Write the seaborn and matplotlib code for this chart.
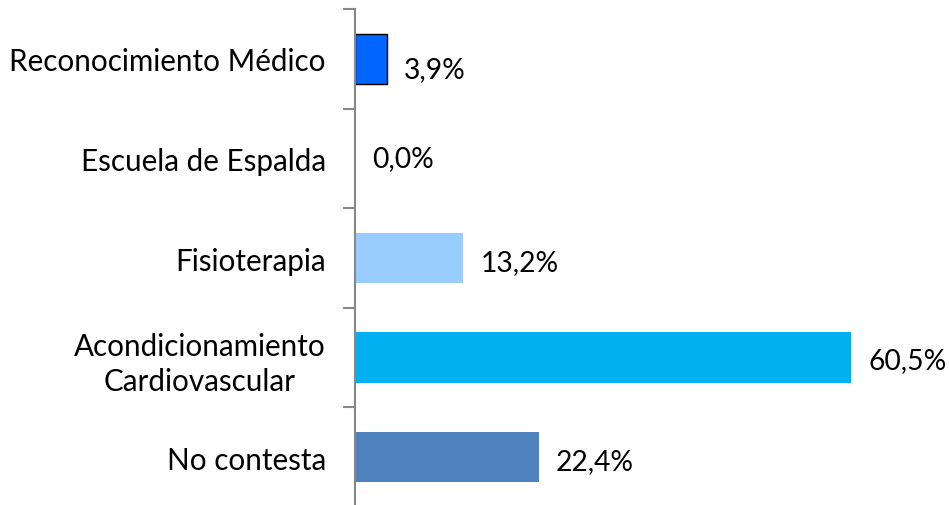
import matplotlib
matplotlib.use("Agg")
import matplotlib.pyplot as plt
import seaborn as sns
import pandas as pd
from matplotlib.ticker import FixedLocator

categories = ["Reconocimiento Médico", "Escuela de Espalda", "Fisioterapia",
              "Acondicionamiento\nCardiovascular", "No contesta"]
values = [3.9, 0.0, 13.2, 60.5, 22.4]
labels = ["3,9%", "0,0%", "13,2%", "60,5%", "22,4%"]
colors = ["#0066FF", "#FFFFFF", "#99CCFF", "#00B0F0", "#4F81BD"]

sns.set_theme(style="white")
plt.rcParams["font.family"] = ["Lato", "DejaVu Sans"]

W, H = 949, 506
fig = plt.figure(figsize=(W / 100, H / 100), dpi=100)
ax = fig.add_axes([355 / W, -2 / H, (W - 355) / W, 498 / H])

df = pd.DataFrame({"cat": categories, "val": values})
sns.barplot(data=df, y="cat", x="val", hue="cat", palette=colors, legend=False,
            orient="h", width=0.505, ax=ax, saturation=1)
for i, p in enumerate(ax.patches):
    if i == 0:
        p.set_edgecolor("black")
        p.set_linewidth(1.0)
    else:
        p.set_linewidth(0)

ax.set_xlim(0, (W - 355) / 8.2)
ax.set_ylim(4.5, -0.5)
ax.set_xlabel("")
ax.set_ylabel("")
ax.set_xticks([])
for s in ["top", "right", "bottom"]:
    ax.spines[s].set_visible(False)
ax.spines["left"].set_color("#888888")
ax.spines["left"].set_linewidth(1.5)

ax.tick_params(axis="y", which="major", length=0, pad=21, labelsize=21.3, labelcolor="black")
ax.yaxis.set_minor_locator(FixedLocator([i - 0.5 for i in range(len(categories) + 1)]))
ax.tick_params(axis="y", which="minor", length=9, width=1.5, color="#888888", left=True)
for t in ax.get_yticklabels():
    t.set_horizontalalignment("right")
    t.set_multialignment("center")
    t.set_linespacing(1.3)

yoff = [-10, 0, -4, -2, -4]
for i, (v, lab) in enumerate(zip(values, labels)):
    ax.annotate(lab, xy=(v, i), xytext=(17, yoff[i]), textcoords="offset pixels",
                ha="left", va="center", fontsize=20.3, color="black")

fig.savefig("out.png", dpi=100)
